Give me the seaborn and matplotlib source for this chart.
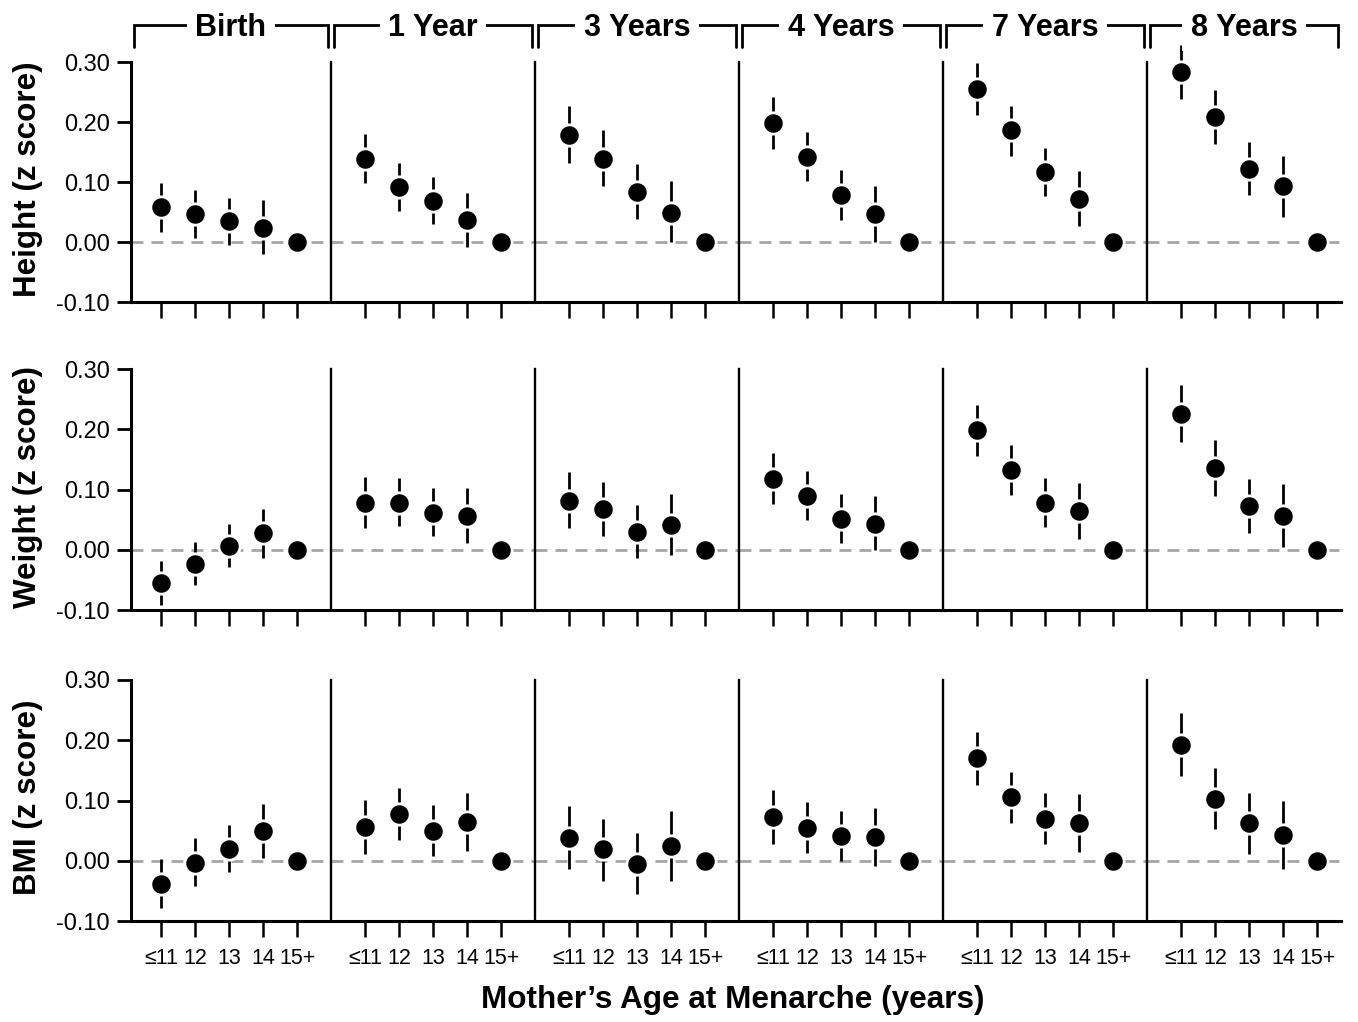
"""
Mother's age at menarche vs offspring height / weight / BMI z scores
across six ages (birth to 8 years).
"""

import numpy as np
import pandas as pd
import matplotlib
matplotlib.use("Agg")
import matplotlib.pyplot as plt
import matplotlib.transforms as mtransforms
import seaborn as sns

# ---- data ----
groups = ["Birth", "1 Year", "3 Years", "4 Years", "7 Years", "8 Years"]
ages = ["\u226411", "12", "13", "14", "15+"]
outcomes = ["Height (z score)", "Weight (z score)", "BMI (z score)"]
ytick_vals = [-0.10, 0.00, 0.10, 0.20, 0.30]
ytick_labels = ["-0.10", "0.00", "0.10", "0.20", "0.30"]

# point estimates (15+ is the reference group, fixed at 0)
height_est = [[0.058, 0.046, 0.035, 0.024, 0], [0.139, 0.092, 0.068, 0.036, 0],
              [0.178, 0.139, 0.084, 0.049, 0], [0.198, 0.142, 0.078, 0.047, 0],
              [0.255, 0.186, 0.116, 0.072, 0], [0.284, 0.208, 0.122, 0.093, 0]]
height_lo = [[0.017, 0.006, -0.005, -0.020], [0.098, 0.052, 0.030, -0.009],
             [0.131, 0.094, 0.038, 0.000], [0.155, 0.101, 0.037, 0.000],
             [0.212, 0.144, 0.076, 0.026], [0.238, 0.163, 0.078, 0.042]]
height_hi = [[0.099, 0.087, 0.074, 0.070], [0.180, 0.131, 0.108, 0.081],
             [0.227, 0.186, 0.130, 0.102], [0.241, 0.184, 0.120, 0.094],
             [0.298, 0.227, 0.157, 0.119], [0.329, 0.253, 0.166, 0.144]]

weight_est = [[-0.056, -0.023, 0.007, 0.027, 0], [0.078, 0.078, 0.061, 0.056, 0],
              [0.081, 0.067, 0.029, 0.041, 0], [0.118, 0.090, 0.051, 0.043, 0],
              [0.198, 0.132, 0.078, 0.064, 0], [0.226, 0.135, 0.073, 0.056, 0]]
weight_lo = [[-0.092, -0.058, -0.028, -0.013], [0.036, 0.039, 0.022, 0.011],
             [0.036, 0.022, -0.014, -0.009], [0.076, 0.050, 0.012, -0.001],
             [0.155, 0.091, 0.037, 0.018], [0.179, 0.089, 0.027, 0.005]]
weight_hi = [[-0.019, 0.013, 0.042, 0.068], [0.120, 0.119, 0.102, 0.102],
             [0.129, 0.112, 0.074, 0.092], [0.160, 0.131, 0.092, 0.090],
             [0.240, 0.174, 0.119, 0.110], [0.274, 0.182, 0.118, 0.109]]

bmi_est = [[-0.038, -0.003, 0.020, 0.050, 0], [0.056, 0.077, 0.050, 0.065, 0],
           [0.038, 0.019, -0.005, 0.024, 0], [0.072, 0.055, 0.041, 0.039, 0],
           [0.170, 0.105, 0.070, 0.062, 0], [0.192, 0.102, 0.062, 0.043, 0]]
bmi_lo = [[-0.078, -0.042, -0.019, 0.005], [0.012, 0.035, 0.008, 0.017],
          [-0.014, -0.033, -0.055, -0.034], [0.028, 0.013, -0.001, -0.009],
          [0.125, 0.062, 0.028, 0.014], [0.140, 0.052, 0.011, -0.013]]
bmi_hi = [[0.003, 0.037, 0.059, 0.094], [0.101, 0.121, 0.093, 0.113],
          [0.091, 0.070, 0.046, 0.082], [0.117, 0.098, 0.083, 0.087],
          [0.214, 0.148, 0.113, 0.110], [0.245, 0.154, 0.112, 0.100]]


def build_frame():
    """Long-format table: one row per outcome/group/age."""
    series = [(height_est, height_lo, height_hi),
              (weight_est, weight_lo, weight_hi),
              (bmi_est, bmi_lo, bmi_hi)]
    rows = []
    for oi, (est, lo, hi) in enumerate(series):
        for gi in range(len(groups)):
            for ai, age in enumerate(ages):
                has_ci = ai < len(lo[gi])
                rows.append({
                    'outcome': outcomes[oi],
                    'group': groups[gi],
                    'age': age,
                    'pos': ai,
                    'est': est[gi][ai],
                    'lo': lo[gi][ai] if has_ci else np.nan,
                    'hi': hi[gi][ai] if has_ci else np.nan,
                })
    return pd.DataFrame(rows)


df = build_frame()

sns.set_theme(style="ticks")
font_list = ['Liberation Sans', 'DejaVu Sans']
plt.rcParams['font.family'] = font_list
plt.rcParams['axes.unicode_minus'] = False
for key in ['text.color', 'axes.labelcolor', 'xtick.color', 'ytick.color',
            'axes.edgecolor']:
    plt.rcParams[key] = 'black'

W, H = 1358, 1022
fig = plt.figure(figsize=(W / 100, H / 100), dpi=100)

# row extents in pixels (top, bottom)
row_px = [(62, 302), (369, 610), (680, 921)]
width_ratios = [5.9, 6, 6, 6, 6, 5.7]
xlims = [(-0.9, 5.0), (-1, 5), (-1, 5), (-1, 5), (-1, 5), (-1, 4.7)]

for ri, outcome in enumerate(outcomes):
    top, bottom = row_px[ri]
    gs = fig.add_gridspec(1, 6, left=130.5 / W, right=1341 / W,
                          top=1 - top / H, bottom=1 - bottom / H,
                          wspace=0, width_ratios=width_ratios)
    for gi, group in enumerate(groups):
        ax = fig.add_subplot(gs[0, gi])
        sub = df[(df['outcome'] == outcome) & (df['group'] == group)]

        ax.axhline(0, color='#a6a6a6', lw=2.0, linestyle=(0, (4.3, 2.9)), zorder=1)
        ci = sub.dropna(subset=['lo'])
        ax.vlines(ci['pos'], ci['lo'], ci['hi'], color='black', lw=2.0,
                  zorder=2, clip_on=False)
        sns.scatterplot(data=sub, x='pos', y='est', ax=ax, color='black',
                        s=235, edgecolor='white', linewidth=2.0,
                        zorder=3, clip_on=False, legend=False)

        ax.set_xlim(*xlims[gi])
        ax.set_ylim(-0.10, 0.30)
        ax.set_xlabel('')
        ax.set_ylabel('')
        ax.set_xticks(range(len(ages)))
        if ri == 2:
            ax.set_xticklabels(ages)
        else:
            ax.set_xticklabels([])
        ax.tick_params(axis='x', direction='out', length=11.5, width=1.8,
                       labelsize=15.5, pad=8, color='black')

        for side in ['top', 'right']:
            ax.spines[side].set_visible(False)
        ax.spines['bottom'].set_linewidth(2.2)
        if gi == 0:
            ax.spines['left'].set_linewidth(2.2)
            ax.set_yticks(ytick_vals)
            ax.set_yticklabels(ytick_labels)
            ax.tick_params(axis='y', direction='out', length=10, width=2.0,
                           labelsize=17, pad=5, color='black')
        else:
            ax.spines['left'].set_linewidth(1.7)
            ax.set_yticks([])

        # bracket with the age label above the top row
        if ri == 0:
            trans = mtransforms.blended_transform_factory(ax.transAxes, fig.transFigure)
            x0, x1 = 0.015, 0.985
            y_top, y_end = 1 - 25 / H, 1 - 47 / H
            ax.plot([x0, x0, x1, x1], [y_end, y_top, y_top, y_end],
                    transform=trans, color='black', lw=2.0, clip_on=False,
                    solid_joinstyle='miter')
            ax.text(0.5, 1 - 27.5 / H, group, transform=trans, ha='center',
                    va='center', fontsize=22, fontweight='bold',
                    bbox=dict(boxstyle='square,pad=0.28', fc='white', ec='none'))

    fig.text(28 / W, 1 - ((top + bottom) / 2 - 3) / H, outcome, rotation=90,
             ha='center', va='center', fontsize=22.6, fontweight='bold')

fig.text(733 / W, 1 - 1000 / H, "Mother\u2019s Age at Menarche (years)",
         ha='center', va='center', fontsize=22.7, fontweight='bold')

fig.savefig('out.png', dpi=100, facecolor='white')
